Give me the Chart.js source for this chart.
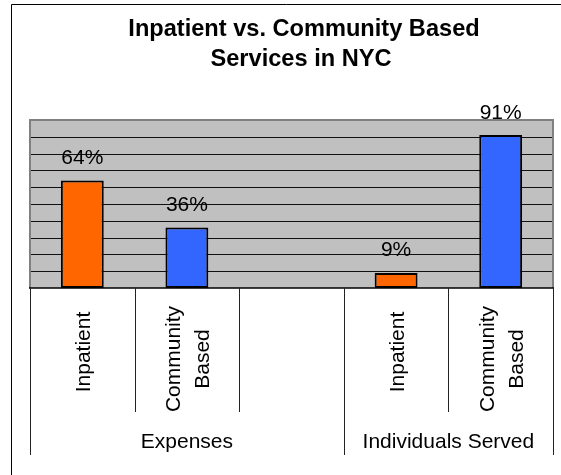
<!DOCTYPE html>
<html>
<head>
<meta charset="utf-8">
<script src="https://cdn.jsdelivr.net/npm/chart.js@4"></script>
<style>
  body { margin: 0; background: #fff; }
  #wrap { width: 561px; height: 475px; }
</style>
</head>
<body>
<div id="wrap"><canvas id="myChart" width="561" height="475"></canvas></div>
<script>
// data
const titleLines = ['Inpatient vs. Community Based', 'Services in NYC'];
const categories = ['Inpatient', ['Community', 'Based'], '', 'Inpatient', ['Community', 'Based']];
const shares = [64, 36, null, 9, 91];
const groupNames = ['Expenses', 'Individuals Served'];
const groupFirst = [0, 3];
const groupLast = [2, 4];

let corLaranja = '#FF6600'
let corAzul = '#3366FF'
let fonte = '"Liberation Sans", Arial, sans-serif'

// orange for inpatient, blue for community based
let barColors = categories.map(function (c) {
    return c === 'Inpatient' ? corLaranja : corAzul;
});

const framePlugin = {
    id: 'frame',
    beforeDraw(chart) {
        const c = chart.ctx;
        const a = chart.chartArea;
        const y = chart.scales.y;
        c.save();
        c.fillStyle = '#fff';
        c.fillRect(0, 0, chart.width, chart.height);
        // outer frame (cropped)
        c.strokeStyle = '#000';
        c.lineWidth = 1;
        c.beginPath();
        c.moveTo(11.5, chart.height);
        c.lineTo(11.5, 4.5);
        c.lineTo(chart.width, 4.5);
        c.stroke();
        // plot background
        c.fillStyle = '#C0C0C0';
        c.fillRect(a.left, a.top, a.right - a.left, a.bottom - a.top);
        // gridlines
        c.strokeStyle = '#111';
        c.lineWidth = 1.2;
        for (let v = 10; v < 100; v += 10) {
            let py = Math.round(y.getPixelForValue(v)) + 0.5;
            c.beginPath();
            c.moveTo(a.left, py);
            c.lineTo(a.right, py);
            c.stroke();
        }
        c.restore();
    },
    afterDatasetsDraw(chart) {
        const c = chart.ctx;
        const a = chart.chartArea;
        const x = chart.scales.x;
        const y = chart.scales.y;
        c.save();
        // plot border
        c.strokeStyle = '#808080';
        c.lineWidth = 2;
        c.beginPath();
        c.moveTo(a.left, a.bottom);
        c.lineTo(a.left, a.top);
        c.lineTo(a.right, a.top);
        c.lineTo(a.right, a.bottom);
        c.stroke();
        c.strokeStyle = '#000';
        c.lineWidth = 1.5;
        c.beginPath();
        c.moveTo(a.left - 1, a.bottom);
        c.lineTo(a.right + 1, a.bottom);
        c.stroke();

        // category dividers below the axis
        let n = categories.length;
        c.lineWidth = 1;
        c.strokeStyle = '#222';
        for (let i = 0; i <= n; i++) {
            let px;
            if (i === 0) px = a.left;
            else if (i === n) px = a.right;
            else px = (x.getPixelForValue(i - 1) + x.getPixelForValue(i)) / 2;
            px = Math.round(px) + 0.5;
            let longLine = groupFirst.indexOf(i) >= 0 || i === n;
            c.beginPath();
            c.moveTo(px, a.bottom);
            c.lineTo(px, longLine ? 455 : 412);
            c.stroke();
        }

        // rotated category labels
        c.fillStyle = '#000';
        c.font = '21px ' + fonte;
        c.textAlign = 'center';
        c.textBaseline = 'middle';
        categories.forEach(function (lab, i) {
            if (!lab) return;
            let lines = Array.isArray(lab) ? lab : [lab];
            let cx = x.getPixelForValue(i);
            let cy = lines.length > 1 ? 359 : 352;
            let lh = 29;
            c.save();
            c.translate(cx, cy);
            c.rotate(-Math.PI / 2);
            lines.forEach(function (t, k) {
                c.fillText(t, 0, (k - (lines.length - 1) / 2) * lh + 2);
            });
            c.restore();
        });

        // group labels
        c.textBaseline = 'alphabetic';
        groupNames.forEach(function (g, k) {
            let l = groupFirst[k] === 0 ? a.left : (x.getPixelForValue(groupFirst[k] - 1) + x.getPixelForValue(groupFirst[k])) / 2;
            let r = groupLast[k] === n - 1 ? a.right : (x.getPixelForValue(groupLast[k]) + x.getPixelForValue(groupLast[k] + 1)) / 2;
            c.fillText(g, (l + r) / 2, 447.5);
        });

        // value labels above bars
        shares.forEach(function (v, i) {
            if (v === null) return;
            c.fillText(v + '%', x.getPixelForValue(i), y.getPixelForValue(v) - 16.5);
        });

        // title
        c.font = 'bold 23.6px ' + fonte;
        c.fillText(titleLines[0], 304, 36);
        c.fillText(titleLines[1], 301, 66);
        c.restore();
    }
};

const ctx = document.getElementById('myChart').getContext('2d');
let myChart = new Chart(ctx, {
    type: 'bar',
    data: {
        labels: categories,
        datasets: [{
            label: 'Share',
            data: shares,
            backgroundColor: barColors,
            borderColor: '#000',
            borderWidth: 2,
            borderSkipped: false,
            barPercentage: 0.41,
            categoryPercentage: 1
        }]
    },
    options: {
        responsive: false,
        animation: false,
        layout: {
            padding: { left: 30, right: 8, top: 120, bottom: 187 }
        },
        plugins: {
            legend: { display: false },
            tooltip: { enabled: false }
        },
        scales: {
            x: { display: false },
            y: { display: false, min: 0, max: 100 }
        }
    },
    plugins: [framePlugin]
});
</script>
</body>
</html>
